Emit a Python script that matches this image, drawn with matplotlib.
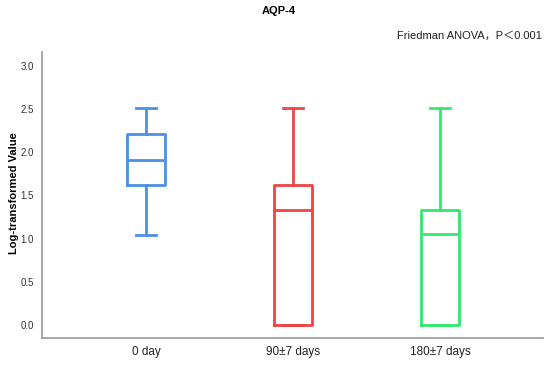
import matplotlib
matplotlib.use("Agg")
import matplotlib.pyplot as plt

categories = ["0 day", "90±7 days", "180±7 days"]
whisker_low = [1.04, 0.0, 0.0]
q1 = [1.62, 0.0, 0.0]
median = [1.91, 1.33, 1.05]
q3 = [2.21, 1.62, 1.33]
whisker_high = [2.51, 2.51, 2.51]
colors = ["#4A90E8", "#EE4444", "#33E870"]
yticks = [0.0, 0.5, 1.0, 1.5, 2.0, 2.5, 3.0]

plt.rcParams['font.family'] = ['Liberation Sans', 'Noto Sans CJK SC', 'DejaVu Sans']

fig = plt.figure(figsize=(5.5, 3.67), dpi=100)
ax = fig.add_axes([42/550, 1-338/367, (543-42)/550, (338-52)/367])

stats = []
for i, c in enumerate(categories):
    stats.append(dict(label=c, whislo=whisker_low[i], q1=q1[i], med=median[i],
                      q3=q3[i], whishi=whisker_high[i], fliers=[]))

positions = list(range(len(categories)))
bp = ax.bxp(stats, positions=positions, widths=0.26, showfliers=False,
            patch_artist=False, manage_ticks=False)
for i, col in enumerate(colors):
    for art in [bp['boxes'][i], bp['medians'][i]]:
        art.set_color(col); art.set_linewidth(2)
    for art in bp['whiskers'][2*i:2*i+2] + bp['caps'][2*i:2*i+2]:
        art.set_color(col); art.set_linewidth(2)
    for cap in bp['caps'][2*i:2*i+2]:
        x = cap.get_xdata()
        cx = (x[0] + x[1]) / 2
        cap.set_xdata([cx - 0.068, cx + 0.068])

ax.set_xlim(-0.71, 2.70)
ax.set_ylim(-0.15, 3.16)
ax.set_xticks(positions)
ax.set_xticklabels(categories, fontsize=8.5, color="#222222")
ax.set_yticks(yticks)
ax.set_yticklabels([f"{v:.1f}" for v in yticks], fontsize=7, color="#333333")
ax.tick_params(length=0, pad=6)
ax.tick_params(axis='x', pad=6)
for s in ['top', 'right']:
    ax.spines[s].set_visible(False)
for s in ['left', 'bottom']:
    ax.spines[s].set_color("#999999")
    ax.spines[s].set_linewidth(1.2)
ax.set_ylabel("Log-transformed Value", fontsize=8, fontweight='bold')
ax.yaxis.set_label_coords((19-42)/501, (338-193)/286)

fig.text(279/550, 1-11/367, "AQP-4", ha='center', va='center', fontsize=8, fontweight='bold')
fig.text(542/550, 1-36/367, "Friedman ANOVA，P＜0.001", ha='right', va='center', fontsize=8, color="#222222")

fig.savefig("out.png", dpi=100)
